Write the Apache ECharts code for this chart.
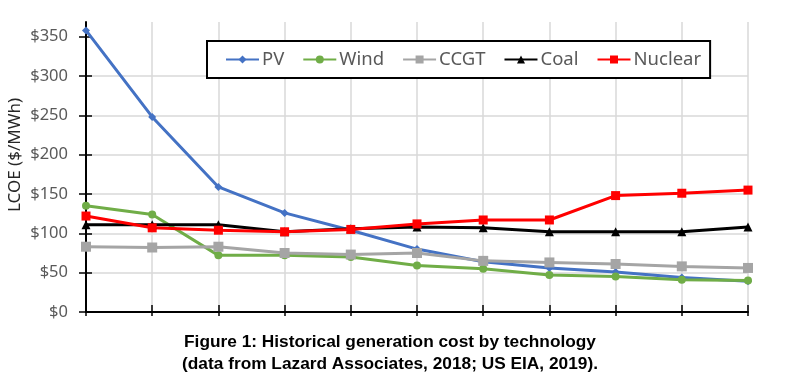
<!DOCTYPE html>
<html>
<head>
<meta charset="utf-8">
<script src="https://cdn.jsdelivr.net/npm/echarts@6/dist/echarts.min.js"></script>
<style>
  html, body { margin: 0; padding: 0; background: #fff; }
  #chart { width: 790px; height: 379px; }
</style>
</head>
<body>
<div id="chart"></div>
<script>
// 11 yearly points, the x axis carries no labels in the original
const categories = ['1', '2', '3', '4', '5', '6', '7', '8', '9', '10', '11'];
const pv = [358, 248, 159, 126, 104, 80, 64, 56, 51, 44, 39];
const wind = [135, 124, 72, 72, 70, 59, 55, 47, 45, 41, 40];
const ccgt = [83, 82, 83, 75, 73, 75, 65, 63, 61, 58, 56];
const coal = [111, 111, 111, 102, 106, 108, 107, 102, 102, 102, 108];
const nuclear = [122, 107, 104, 102, 105, 112, 117, 117, 148, 151, 155];
const yTicks = [0, 50, 100, 150, 200, 250, 300, 350];

const chart = echarts.init(document.getElementById('chart'));

const font = '"Noto Sans", sans-serif';
const grey = '#595959';

function lineSeries(name, data, color, symbol, size) {
    return {
        name: name,
        type: 'line',
        data: data,
        xAxisIndex: 0,
        yAxisIndex: 0,
        symbol: symbol,
        symbolSize: size,
        lineStyle: { color: color, width: 3 },
        itemStyle: { color: color },
        emphasis: { disabled: true },
        animation: false
    };
}

const option = {
    backgroundColor: '#fff',
    title: {
        text: 'Figure 1: Historical generation cost by technology\n(data from Lazard Associates, 2018; US EIA, 2019).',
        left: 385,
        top: 326,
        textAlign: 'center',
        textStyle: {
            fontFamily: '"Liberation Sans", Arial, sans-serif',
            fontSize: 17.3,
            fontWeight: 'bold',
            color: '#000',
            lineHeight: 22
        }
    },
    legend: {
        left: 207,
        top: 41,
        padding: [9, 9, 9, 18],
        borderColor: '#000',
        borderWidth: 2,
        backgroundColor: '#fff',
        itemWidth: 33,
        itemHeight: 10,
        itemGap: 18,
        textStyle: { fontFamily: font, fontSize: 18.5, color: grey, padding: [0, 0, 0, -2] },
        data: ['PV', 'Wind', 'CCGT', 'Coal', 'Nuclear']
    },
    grid: { left: 86, right: 42, top: 22, bottom: 67, outerBoundsMode: 'none' },
    xAxis: [
        {
            type: 'category',
            data: categories,
            boundaryGap: false,
            axisLine: { lineStyle: { color: '#000', width: 2 } },
            axisTick: { show: true, inside: false, length: 4, lineStyle: { color: '#000', width: 1.5 } },
            axisLabel: { show: false },
            splitLine: { show: true, lineStyle: { color: '#d9d9d9', width: 1.5 } }
        },
        {
            type: 'category',
            data: categories,
            boundaryGap: false,
            position: 'bottom',
            axisLine: { show: false },
            axisTick: { show: true, inside: true, length: 7, lineStyle: { color: '#000', width: 1.5 } },
            axisLabel: { show: false },
            splitLine: { show: false }
        }
    ],
    yAxis: [
        {
            type: 'value',
            min: 0,
            max: 368.7,
            interval: 50,
            name: 'LCOE ($/MWh)',
            nameLocation: 'middle',
            nameGap: 62,
            nameMoveOverlap: false,
            nameTextStyle: { fontFamily: font, fontSize: 17, color: '#262626', padding: [0, 0, 0, 24] },
            axisLine: { show: true, lineStyle: { color: '#000', width: 2 } },
            axisTick: { show: true, inside: false, length: 7, customValues: yTicks, lineStyle: { color: '#000', width: 1.5 } },
            axisLabel: {
                customValues: yTicks,
                margin: 18,
                fontFamily: font,
                fontSize: 16.5,
                color: grey,
                formatter: function (v) { return '$' + v; }
            },
            splitLine: { show: true, showMaxLine: false, lineStyle: { color: '#d9d9d9', width: 1.5 } }
        },
        {
            type: 'value',
            min: 0,
            max: 368.7,
            interval: 50,
            position: 'left',
            axisLine: { show: false },
            axisTick: { show: true, inside: true, length: 6, customValues: yTicks, lineStyle: { color: '#000', width: 1.5 } },
            axisLabel: { show: false },
            splitLine: { show: false }
        }
    ],
    series: [
        lineSeries('PV', pv, '#4472C4', 'diamond', 8),
        lineSeries('Wind', wind, '#70AD47', 'circle', 8),
        lineSeries('CCGT', ccgt, '#A5A5A5', 'rect', 10),
        lineSeries('Coal', coal, '#000000', 'triangle', 9),
        lineSeries('Nuclear', nuclear, '#FF0000', 'rect', 9)
    ]
};

chart.setOption(option);
</script>
</body>
</html>
